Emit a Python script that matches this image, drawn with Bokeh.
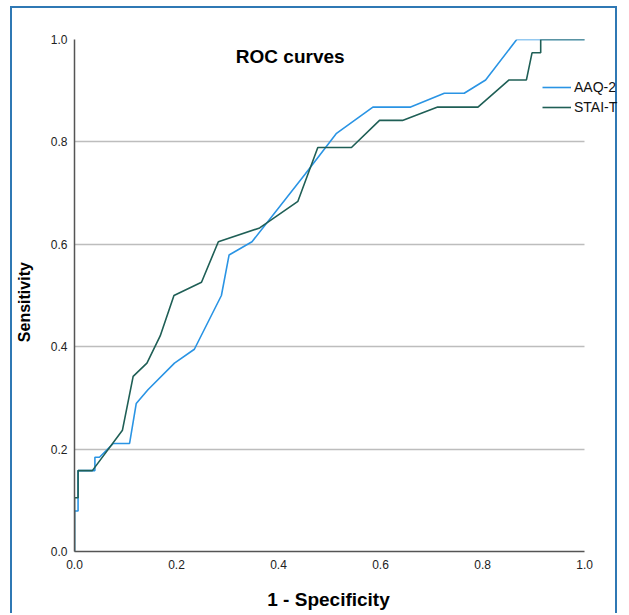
from bokeh.plotting import figure
from bokeh.models import Range1d, Label, Legend, LegendItem, NumeralTickFormatter
from bokeh.embed import file_html
from bokeh.resources import INLINE

# ---- data ----
series_names = ["AAQ-2", "STAI-T"]

aaq_fpr = [0.0, 0.0, 0.007, 0.007, 0.040, 0.040, 0.049, 0.076, 0.108, 0.121, 0.144,
           0.196, 0.235, 0.288, 0.303, 0.348, 0.452, 0.513, 0.585, 0.659, 0.725,
           0.764, 0.806, 0.867, 1.0]
aaq_tpr = [0.0, 0.079, 0.079, 0.158, 0.158, 0.184, 0.184, 0.211, 0.211, 0.289, 0.316,
           0.368, 0.395, 0.500, 0.579, 0.605, 0.737, 0.816, 0.868, 0.868, 0.895,
           0.895, 0.921, 1.0, 1.0]

stai_fpr = [0.0, 0.0, 0.007, 0.007, 0.035, 0.094, 0.115, 0.142, 0.168, 0.195, 0.249,
            0.282, 0.363, 0.438, 0.477, 0.543, 0.598, 0.643, 0.712, 0.791, 0.852,
            0.886, 0.897, 0.914, 0.914, 1.0]
stai_tpr = [0.0, 0.105, 0.105, 0.158, 0.158, 0.237, 0.342, 0.368, 0.421, 0.500, 0.526,
            0.605, 0.632, 0.684, 0.789, 0.789, 0.842, 0.842, 0.868, 0.868, 0.921,
            0.921, 0.974, 0.974, 1.0, 1.0]

x_ticks = [0.0, 0.2, 0.4, 0.6, 0.8, 1.0]
y_ticks = [0.0, 0.2, 0.4, 0.6, 0.8, 1.0]

FONT = "Liberation Sans"
BLUE = "#2a94e4"
TEAL = "#1f5f56"
NBSP = "\u00a0"

# frame spans to the right edge so the legend is not clipped;
# axis and grid lines are bounded to [0, 1]
p = figure(width=607, height=607,
           x_range=Range1d(0, 546 / 511), y_range=Range1d(0, 1),
           output_backend="svg", toolbar_location=None,
           min_border_left=61, min_border_right=0,
           min_border_top=31, min_border_bottom=64)
p.outline_line_color = None
p.background_fill_color = "white"
p.border_fill_color = "white"

p.styles = {
    "border-left": "2px solid #2f78b4",
    "border-right": "2px solid #2f78b4",
    "border-top": "2px solid #2f78b4",
    "margin-left": "10px",
    "margin-top": "6px",
}

# axes
for ax, ticks in ((p.xaxis, x_ticks), (p.yaxis, y_ticks)):
    ax.ticker = ticks
    ax.formatter = NumeralTickFormatter(format="0.0")
    ax.major_tick_out = 0
    ax.major_tick_in = 0
    ax.minor_tick_out = 0
    ax.minor_tick_in = 0
    ax.axis_line_color = "#555555"
    ax.axis_line_width = 1.5
    ax.major_label_text_font = FONT
    ax.major_label_text_font_size = "12px"
    ax.major_label_text_color = "#222222"
    ax.axis_label_text_font = FONT
    ax.axis_label_text_font_style = "bold"
    ax.axis_label_text_color = "#000000"

p.xaxis.bounds = (0, 1)
# trailing no-break spaces keep the label centred under the [0, 1] axis
p.xaxis.axis_label = "1 - Specificity" + NBSP * 7
p.yaxis.axis_label = "Sensitivity" + NBSP * 3
p.xaxis.axis_label_text_font_size = "19px"
p.yaxis.axis_label_text_font_size = "16px"
p.xaxis.major_label_standoff = 8
p.yaxis.major_label_standoff = 7
p.xaxis.axis_label_standoff = 17
p.yaxis.axis_label_standoff = 15

p.xgrid.visible = False
p.ygrid.ticker = y_ticks
p.ygrid.cross_bounds = (0, 1)
p.ygrid.grid_line_color = "#bdbdbd"
p.ygrid.grid_line_width = 1.5

r_aaq = p.line(aaq_fpr, aaq_tpr, line_color=BLUE, line_width=1.6)
r_stai = p.line(stai_fpr, stai_tpr, line_color=TEAL, line_width=1.6)

legend = Legend(items=[LegendItem(label=series_names[0], renderers=[r_aaq]),
                       LegendItem(label=series_names[1], renderers=[r_stai])],
                location=(468, 434), border_line_color=None,
                background_fill_alpha=0, padding=0, margin=0, spacing=0,
                glyph_width=29, glyph_height=20, label_height=20,
                label_standoff=3, label_text_font=FONT,
                label_text_font_size="14px", label_text_color="#111111")
p.add_layout(legend)

title = Label(x=0.423, y=0.967, text="ROC curves", text_align="center",
              text_baseline="middle", text_font=FONT, text_font_size="19px",
              text_font_style="bold", text_color="#000000")
p.add_layout(title)

open("out.html", "w").write(file_html(p, INLINE))
